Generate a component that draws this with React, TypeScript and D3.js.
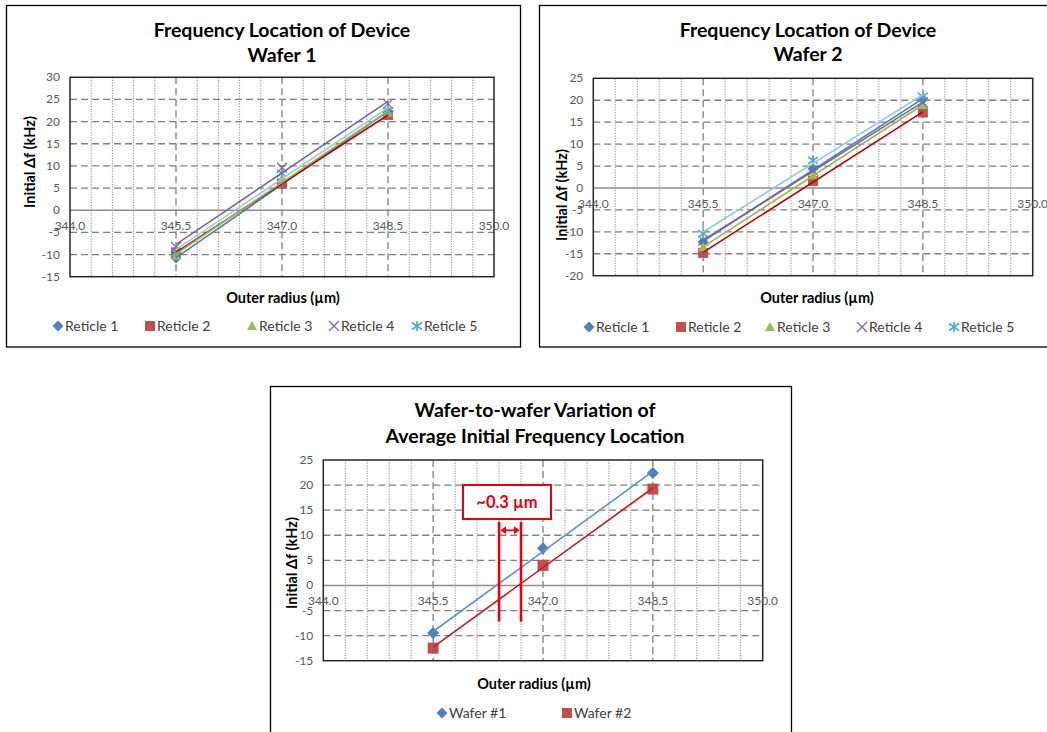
import React from "react";
import * as d3 from "d3";

// Outer radius positions of the measured devices (µm)
const radii = [345.5, 347.0, 348.5];

// Wafer 1: initial frequency offset per reticle (kHz)
const w1Reticle1 = [-10.8, 6.0, 22.2];
const w1Reticle2 = [-9.5, 6.0, 21.5];
const w1Reticle3 = [-10.3, 7.1, 22.0];
const w1Reticle4 = [-8.3, 9.6, 24.0];
const w1Reticle5 = [-9.5, 8.3, 22.5];

// Wafer 2: initial frequency offset per reticle (kHz)
const w2Reticle1 = [-12.3, 4.4, 20.2];
const w2Reticle2 = [-14.8, 1.6, 17.2];
const w2Reticle3 = [-13.5, 2.9, 18.9];
const w2Reticle4 = [-12.0, 4.0, 19.5];
const w2Reticle5 = [-10.4, 6.3, 20.9];

// Wafer averages (kHz)
const wafer1Avg = [-9.5, 7.4, 22.4];
const wafer2Avg = [-12.5, 4.0, 19.2];

const reticleNames = ["Reticle 1", "Reticle 2", "Reticle 3", "Reticle 4", "Reticle 5"];
const waferNames = ["Wafer #1", "Wafer #2"];

// x axis: 344.0 .. 350.0, labelled every 1.5 µm, minor grid every 0.3 µm
const xDomain = [344.0, 350.0];
const xMajorTicks = [344.0, 345.5, 347.0, 348.5, 350.0];
const xMinorStep = 0.3;

// Zero crossings marked on the comparison chart and the gap label
const gapMarks = [346.4, 346.7];
const gapLabel = "~0.3 µm";

const FONT = "Lato, 'Open Sans', sans-serif";

type MarkerKind = "diamond" | "square" | "triangle" | "x" | "star";

interface Series {
  name: string;
  values: number[];
  marker: MarkerKind;
  fill: string;
  line: string;
}

function Marker({ kind, x, y, color, size = 5 }: { kind: MarkerKind; x: number; y: number; color: string; size?: number }) {
  const s = size;
  if (kind === "diamond") {
    return <path d={`M${x},${y - s - 0.5}L${x + s + 0.5},${y}L${x},${y + s + 0.5}L${x - s - 0.5},${y}Z`} fill={color} />;
  }
  if (kind === "square") {
    return <rect x={x - s} y={y - s} width={2 * s} height={2 * s} fill={color} />;
  }
  if (kind === "triangle") {
    return <path d={`M${x},${y - s}L${x + s},${y + s * 0.8}L${x - s},${y + s * 0.8}Z`} fill={color} />;
  }
  if (kind === "x") {
    return (
      <g stroke={color} strokeWidth={1.3}>
        <line x1={x - s} y1={y - s} x2={x + s} y2={y + s} />
        <line x1={x - s} y1={y + s} x2={x + s} y2={y - s} />
      </g>
    );
  }
  return (
    <g stroke={color} strokeWidth={1.6}>
      <line x1={x - s} y1={y - s * 0.7} x2={x + s} y2={y + s * 0.7} />
      <line x1={x - s} y1={y + s * 0.7} x2={x + s} y2={y - s * 0.7} />
      <line x1={x} y1={y - s} x2={x} y2={y + s} />
    </g>
  );
}

// Least-squares linear trend through a series
function linearFit(xs: number[], ys: number[]) {
  const mx = d3.mean(xs) as number;
  const my = d3.mean(ys) as number;
  const num = d3.sum(xs, (x, i) => (x - mx) * (ys[i] - my));
  const den = d3.sum(xs, (x) => (x - mx) * (x - mx));
  const slope = num / den;
  return (x: number) => my + slope * (x - mx);
}

interface PanelProps {
  frame: { x: number; y: number; w: number; h: number };
  plot: { l: number; t: number; r: number; b: number };
  yDomain: [number, number];
  titles: string[];
  titleX: number;
  titleY: number[];
  yLabelPos: [number, number];
  xLabelPos: [number, number];
  legendY: number;
  legendX: number[];
  series: Series[];
  markerSize?: number;
  children?: React.ReactNode;
}

function Panel(p: PanelProps) {
  const x = d3.scaleLinear().domain(xDomain).range([p.plot.l, p.plot.r]);
  const y = d3.scaleLinear().domain(p.yDomain).range([p.plot.b, p.plot.t]);
  const yTicks = d3.range(p.yDomain[0], p.yDomain[1] + 0.001, 5);
  const minor = d3.range(xDomain[0] + xMinorStep, xDomain[1] - 0.01, xMinorStep).filter(
    (v) => !xMajorTicks.some((m) => Math.abs(m - v) < 0.01)
  );
  const line = d3.line<[number, number]>().x((d) => x(d[0])).y((d) => y(d[1]));
  const ms = p.markerSize ?? 5;
  return (
    <g>
      <rect x={p.frame.x} y={p.frame.y} width={p.frame.w} height={p.frame.h} fill="#fff" stroke="#000" strokeWidth={1.3} />
      {p.titles.map((t, i) => (
        <text key={t} x={p.titleX} y={p.titleY[i]} textAnchor="middle" fontFamily={FONT} fontWeight={700} fontSize={19.5} fill="#000">
          {t}
        </text>
      ))}
      {/* minor vertical grid */}
      {minor.map((v) => (
        <line key={"m" + v} x1={x(v)} x2={x(v)} y1={p.plot.t} y2={p.plot.b} stroke="#8c8c8c" strokeWidth={1} strokeDasharray="1.2,1.4" />
      ))}
      {/* major vertical grid */}
      {xMajorTicks.slice(1, -1).map((v) => (
        <line key={"M" + v} x1={x(v)} x2={x(v)} y1={p.plot.t} y2={p.plot.b} stroke="#7f7f7f" strokeWidth={1.3} strokeDasharray="7,4" />
      ))}
      {/* horizontal grid */}
      {yTicks.slice(1, -1).filter((v) => v !== 0).map((v) => (
        <line key={"h" + v} x1={p.plot.l} x2={p.plot.r} y1={y(v)} y2={y(v)} stroke="#7f7f7f" strokeWidth={1.3} strokeDasharray="7,4" />
      ))}
      <line x1={p.plot.l} x2={p.plot.r} y1={y(0)} y2={y(0)} stroke="#8c8c8c" strokeWidth={1.5} />
      <rect x={p.plot.l} y={p.plot.t} width={p.plot.r - p.plot.l} height={p.plot.b - p.plot.t} fill="none" stroke="#262626" strokeWidth={1.5} />
      {/* tick labels */}
      {yTicks.map((v) => (
        <text key={"yt" + v} x={p.plot.l - 10} y={y(v) + 4} textAnchor="end" fontFamily={FONT} fontSize={12} fill="#595959">
          {v}
        </text>
      ))}
      {xMajorTicks.map((v) => (
        <text key={"xt" + v} x={x(v)} y={y(0) + 20} textAnchor="middle" fontFamily={FONT} fontSize={12} fill="#595959">
          {v.toFixed(1)}
        </text>
      ))}
      {/* markers */}
      {p.series.map((s) =>
        s.values.map((v, i) => <Marker key={s.name + i} kind={s.marker} x={x(radii[i])} y={y(v)} color={s.fill} size={ms} />)
      )}
      {/* linear trendlines */}
      {p.series.map((s) => {
        const f = linearFit(radii, s.values);
        const x0 = radii[0];
        const x1 = radii[radii.length - 1];
        return <path key={"t" + s.name} d={line([[x0, f(x0)], [x1, f(x1)]]) ?? ""} stroke={s.line} strokeWidth={1.6} fill="none" />;
      })}
      {p.children && p.children}
      {/* axis titles */}
      <text
        transform={`translate(${p.yLabelPos[0]},${p.yLabelPos[1]}) rotate(-90)`}
        textAnchor="middle"
        dominantBaseline="central"
        fontFamily={FONT}
        fontWeight={700}
        fontSize={14.5}
        fill="#000"
      >
        Initial Δf (kHz)
      </text>
      <text x={p.xLabelPos[0]} y={p.xLabelPos[1] + 5} textAnchor="middle" fontFamily={FONT} fontWeight={700} fontSize={14.5} fill="#000">
        Outer radius (µm)
      </text>
      {/* legend */}
      {p.series.map((s, i) => (
        <g key={"lg" + s.name}>
          <Marker kind={s.marker} x={p.legendX[i]} y={p.legendY} color={s.fill} size={5} />
          <text x={p.legendX[i] + 7} y={p.legendY + 5} fontFamily={FONT} fontSize={14} fill="#404040">
            {s.name}
          </text>
        </g>
      ))}
    </g>
  );
}

const reticleStyle: { marker: MarkerKind; fill: string; line: string }[] = [
  { marker: "diamond", fill: "#4f81bd", line: "#4a7ebb" },
  { marker: "square", fill: "#c0504d", line: "#c00000" },
  { marker: "triangle", fill: "#9bbb59", line: "#98b954" },
  { marker: "x", fill: "#8064a2", line: "#8064a2" },
  { marker: "star", fill: "#4bacc6", line: "#93cddd" },
];

function reticleSeries(rows: number[][]): Series[] {
  return rows.map((values, i) => ({ name: reticleNames[i], values, ...reticleStyle[i] }));
}

export default function App() {
  const wafer1 = reticleSeries([w1Reticle1, w1Reticle2, w1Reticle3, w1Reticle4, w1Reticle5]);
  const wafer2 = reticleSeries([w2Reticle1, w2Reticle2, w2Reticle3, w2Reticle4, w2Reticle5]);
  const averages: Series[] = [
    { name: waferNames[0], values: wafer1Avg, marker: "diamond", fill: "#4f81bd", line: "#5b93d0" },
    { name: waferNames[1], values: wafer2Avg, marker: "square", fill: "#c0504d", line: "#c41a1a" },
  ];

  // scales for the annotation on the comparison chart
  const plot3 = { l: 323.3, t: 460, r: 762.7, b: 660.7 };
  const x3 = d3.scaleLinear().domain(xDomain).range([plot3.l, plot3.r]);
  const y3 = d3.scaleLinear().domain([-15, 25]).range([plot3.b, plot3.t]);
  const red = "#e8000b";
  const arrowY = y3(11);
  const gx0 = x3(gapMarks[0]);
  const gx1 = x3(gapMarks[1]);

  return (
    <svg width={1047} height={732} style={{ position: "absolute", left: 0, top: 0, background: "#fff" }}>
      <Panel
        frame={{ x: 6.5, y: 5.5, w: 514, h: 341.5 }}
        plot={{ l: 70, t: 77.3, r: 494, b: 276.7 }}
        yDomain={[-15, 30]}
        titles={["Frequency Location of Device", "Wafer 1"]}
        titleX={282}
        titleY={[37, 62]}
        yLabelPos={[29, 162]}
        xLabelPos={[283, 298]}
        legendY={326}
        legendX={[58, 150, 252, 334, 417]}
        series={wafer1}
      />
      <Panel
        frame={{ x: 539.5, y: 5.5, w: 510, h: 341.5 }}
        plot={{ l: 593.3, t: 78.3, r: 1032.7, b: 275.7 }}
        yDomain={[-20, 25]}
        titles={["Frequency Location of Device", "Wafer 2"]}
        titleX={808}
        titleY={[37, 61]}
        yLabelPos={[561, 195]}
        xLabelPos={[817, 298]}
        legendY={327}
        legendX={[589, 681, 770, 862, 954]}
        series={wafer2}
      />
      <Panel
        frame={{ x: 270.5, y: 386.5, w: 521, h: 360 }}
        plot={plot3}
        yDomain={[-15, 25]}
        titles={["Wafer-to-wafer Variation of", "Average Initial Frequency Location"]}
        titleX={535}
        titleY={[417, 443]}
        yLabelPos={[291, 563]}
        xLabelPos={[534, 684]}
        legendY={713}
        legendX={[442, 567]}
        series={averages}
        markerSize={5.5}
      >
        <g>
          {gapMarks.map((g) => (
            <line key={"g" + g} x1={x3(g)} x2={x3(g)} y1={y3(12.7)} y2={y3(-7.2)} stroke={red} strokeWidth={2.6} />
          ))}
          <line x1={gx0 + 4} x2={gx1 - 4} y1={arrowY} y2={arrowY} stroke={red} strokeWidth={1.6} />
          <path d={`M${gx0 + 1.5},${arrowY}L${gx0 + 7},${arrowY - 4}L${gx0 + 7},${arrowY + 4}Z`} fill={red} />
          <path d={`M${gx1 - 1.5},${arrowY}L${gx1 - 7},${arrowY - 4}L${gx1 - 7},${arrowY + 4}Z`} fill={red} />
          <rect x={463} y={485} width={88} height={34} fill="#fff" stroke={red} strokeWidth={2} />
          <text x={507} y={508} textAnchor="middle" fontFamily={FONT} fontWeight={700} fontSize={16.5} fill={red}>
            {gapLabel}
          </text>
        </g>
      </Panel>
    </svg>
  );
}
